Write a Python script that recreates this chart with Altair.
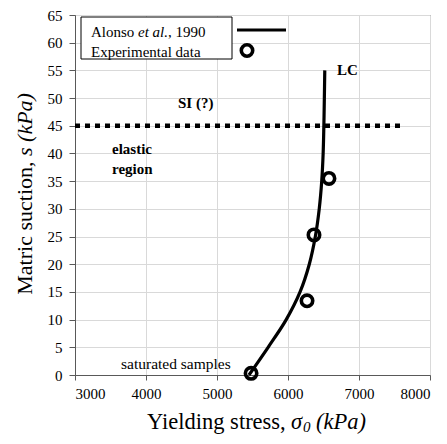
import altair as alt
import pandas as pd

# ---- data ----
lc_s = [0, 5, 10, 15, 20, 25, 30, 35, 40, 45, 50, 55]
lc_sigma = [5450, 5720, 5975, 6170, 6300, 6385, 6440, 6475, 6495, 6505, 6512, 6518]

exp_sigma = [5480, 6268, 6366, 6577]
exp_s = [0.3, 13.4, 25.3, 35.5]

si_sigma = [3000, 7634]
si_s = [45, 45]

x_ticks = [3000, 4000, 5000, 6000, 7000, 8000]
y_ticks = list(range(0, 70, 5))

W, H = 355, 360
FONT = "Liberation Serif"

lc_df = pd.DataFrame({"sigma": lc_sigma, "s": lc_s})
exp_df = pd.DataFrame({"sigma": exp_sigma, "s": exp_s})
si_df = pd.DataFrame({"sigma": si_sigma, "s": si_s})

xs = alt.Scale(domain=[3000, 8000], nice=False, zero=False)
ys = alt.Scale(domain=[0, 65], nice=False, zero=False)

xaxis = alt.Axis(values=x_ticks, title=None, grid=True, format="d",
                 tickSize=5, labelPadding=6, labelFont=FONT, labelFontSize=15,
                 labelColor="black", labelOverlap=False)
yaxis = alt.Axis(values=y_ticks, title=None, grid=True, format="d",
                 tickSize=6, labelPadding=7, labelFont=FONT, labelFontSize=15,
                 labelColor="black", labelOverlap=False)
X = alt.X("sigma:Q", scale=xs, axis=xaxis)
Y = alt.Y("s:Q", scale=ys, axis=yaxis)

si = alt.Chart(si_df).mark_line(color="black", strokeWidth=4.5, strokeDash=[5, 5]).encode(
    x=X, y=Y)

lc = alt.Chart(lc_df).mark_line(color="black", strokeWidth=3.2, interpolate="catmull-rom").encode(
    x=X, y=Y, order="s:Q")

pts = alt.Chart(exp_df).mark_point(shape="circle", filled=False, color="black",
                                   size=130, strokeWidth=3.6, opacity=1).encode(
    x=X, y=Y)

# annotations in data coordinates
ann_bold = pd.DataFrame({
    "sigma": [4451, 3521, 3521, 6690],
    "s": [48.2, 39.9, 36.3, 54.2],
    "label": ["SI (?)", "elastic", "region", "LC"],
})
ann_b = alt.Chart(ann_bold).mark_text(font=FONT, fontSize=15, fontWeight="bold",
                                      align="left", baseline="alphabetic", color="black").encode(
    x=X, y=Y, text="label:N")

ann_reg = pd.DataFrame({"sigma": [3648], "s": [1.1], "label": ["saturated samples"]})
ann_r = alt.Chart(ann_reg).mark_text(font=FONT, fontSize=15.5, align="left",
                                     baseline="alphabetic", color="black").encode(
    x=X, y=Y, text="label:N")

one = pd.DataFrame({"a": [0]})

# legend box
box = alt.Chart(one).mark_rect(fill="white", stroke="black", strokeWidth=1).encode(
    x=alt.value(6), x2=alt.value(157), y=alt.value(2), y2=alt.value(44))
leg_line = alt.Chart(one).mark_rule(color="black", strokeWidth=3).encode(
    x=alt.value(162), x2=alt.value(211), y=alt.value(15))
leg_pt = alt.Chart(one).mark_point(shape="circle", filled=False, color="black",
                                   size=130, strokeWidth=3.6, opacity=1).encode(
    x=alt.value(172), y=alt.value(35.5))

def txt(t, x, y, size=15, style="normal", align="left", angle=0, weight="normal"):
    kw = dict(font=FONT, fontSize=size, fontStyle=style, align=align,
              baseline="alphabetic", color="black", text=t, fontWeight=weight)
    if angle:
        kw["angle"] = angle
    return alt.Chart(one).mark_text(**kw).encode(x=alt.value(x), y=alt.value(y))

leg_texts = [
    txt("Alonso", 16, 21.7),
    txt("et al.", 63, 21.7, style="italic"),
    txt(", 1990", 93, 21.7),
    txt("Experimental data", 16, 41.7),
]

# axis titles (mixed upright / italic)
xt = [
    txt("Yielding stress,", 72, 414, size=22.5),
    txt("\u03c3", 216, 414, size=22.5, style="italic"),
    txt("0", 228, 417, size=15, style="italic"),
    txt("(kPa)", 291, 414, size=22.5, style="italic", align="right"),
]
yt = [
    txt("Matric suction,", -43, 146.5, size=22, align="right", angle=270),
    txt("s (kPa)", -43, 141, size=22, style="italic", align="left", angle=270),
]

chart = alt.layer(si, lc, pts, ann_b, ann_r, box, leg_line, leg_pt,
                  *leg_texts, *xt, *yt).properties(
    width=W, height=H,
    autosize=alt.AutoSizeParams(type="none"),
    padding={"left": 67, "top": 7, "right": 9, "bottom": 61},
).configure(font=FONT).configure_axis(
    labelFont=FONT, labelFontSize=15, labelColor="black",
    gridColor="#d9d9d9", gridWidth=1,
    domainColor="#595959", tickColor="#595959", domainWidth=1,
).configure_view(stroke="#595959", strokeWidth=1)

chart.save("out.html", embed_options={"renderer": "svg", "actions": False})
